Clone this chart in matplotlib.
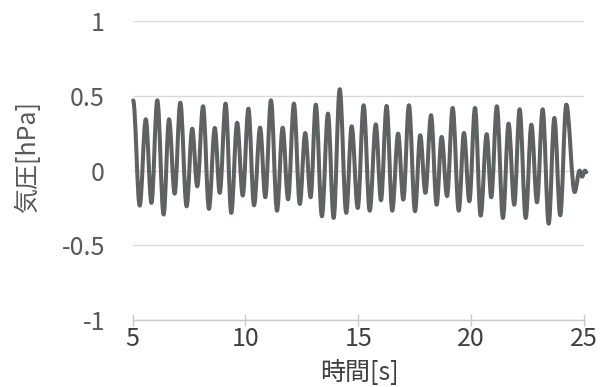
import matplotlib
matplotlib.use("Agg")
import matplotlib.pyplot as plt
from matplotlib.path import Path
from matplotlib.patches import PathPatch

plt.rcParams['font.family'] = ['Noto Sans CJK JP', 'DejaVu Sans']

# extrema of the pressure signal
time_s = [5.02, 5.31, 5.58, 5.83, 6.09, 6.37, 6.61, 6.86, 7.11, 7.39,
          7.64, 7.86, 8.12, 8.38, 8.64, 8.86, 9.12, 9.37, 9.63, 9.88,
          10.13, 10.38, 10.65, 10.88, 11.13, 11.40, 11.65, 11.89, 12.15, 12.41,
          12.65, 12.89, 13.12, 13.39, 13.66, 13.91, 14.18, 14.47, 14.71, 14.98,
          15.24, 15.51, 15.78, 16.01, 16.26, 16.51, 16.77, 17.00, 17.25, 17.52,
          17.75, 17.98, 18.23, 18.48, 18.70, 18.94, 19.19, 19.46, 19.69, 19.93,
          20.18, 20.43, 20.70, 20.90, 21.15, 21.42, 21.67, 21.92, 22.16, 22.43,
          22.68, 22.93, 23.18, 23.45, 23.70, 23.96, 24.23, 24.60, 24.82, 24.93,
          25.06, 25.12]
pressure = [0.47, -0.234, 0.344, -0.216, 0.471, -0.294, 0.344, -0.154, 0.455, -0.239,
            0.281, -0.105, 0.431, -0.256, 0.286, -0.149, 0.449, -0.283, 0.321, -0.167,
            0.415, -0.232, 0.288, -0.178, 0.471, -0.268, 0.288, -0.192, 0.449, -0.223,
            0.252, -0.178, 0.442, -0.305, 0.382, -0.317, 0.545, -0.283, 0.297, -0.25,
            0.438, -0.268, 0.31, -0.198, 0.433, -0.268, 0.248, -0.194, 0.438, -0.272,
            0.237, -0.149, 0.371, -0.228, 0.226, -0.171, 0.42, -0.268, 0.252, -0.205,
            0.42, -0.301, 0.244, -0.178, 0.431, -0.317, 0.315, -0.228, 0.411, -0.317,
            0.308, -0.212, 0.411, -0.355, 0.353, -0.299, 0.442, -0.143, 0.0, -0.04,
            0.0, -0.01]

xticks = [5, 10, 15, 20, 25]
yticks = [-1, -0.5, 0, 0.5, 1]
ytick_labels = ['-1', '-0.5', '0', '0.5', '1']

fig = plt.figure(figsize=(6.08, 3.87), dpi=100)
ax = fig.add_axes([0.2183, 0.1731, 0.7417, 0.7719])

# smoothed line (like a spreadsheet "smooth line"): cubic curves with flat tangents at the extrema
verts = [(time_s[0], pressure[0])]
codes = [Path.MOVETO]
for i in range(len(time_s) - 1):
    d = time_s[i + 1] - time_s[i]
    verts += [(time_s[i] + 0.36 * d, pressure[i]),
              (time_s[i + 1] - 0.36 * d, pressure[i + 1]),
              (time_s[i + 1], pressure[i + 1])]
    codes += [Path.CURVE4] * 3
ax.add_patch(PathPatch(Path(verts, codes), facecolor='none', edgecolor='#5f6262',
                       linewidth=2.9, joinstyle='round', capstyle='round',
                       clip_on=False, zorder=3))

ax.set_xlim(5, 25)
ax.set_ylim(-1, 1)
ax.set_xticks(xticks)
ax.set_yticks(yticks)
ax.set_yticklabels(ytick_labels)

ax.grid(axis='y', color='#d9d9d9', linewidth=1)
ax.set_axisbelow(True)
for side in ['left', 'right', 'top']:
    ax.spines[side].set_visible(False)
ax.spines['bottom'].set_color('#c8c8c8')
ax.spines['bottom'].set_linewidth(1)

ax.tick_params(axis='x', direction='inout', length=8, width=1, color='#c8c8c8',
               labelsize=18, labelcolor='#404040', pad=0)
ax.tick_params(axis='y', length=0, labelsize=18, labelcolor='#595959', pad=20)

fig.text(359 / 608, 1 - 373 / 387, '時間[s]', fontsize=18, color='#404040',
         ha='center', va='center')
fig.text(28 / 608, 1 - 157 / 387, '気圧[hPa]', fontsize=18, color='#595959',
         ha='center', va='center', rotation=90)

fig.savefig('out.png', dpi=100)
plt.close(fig)
